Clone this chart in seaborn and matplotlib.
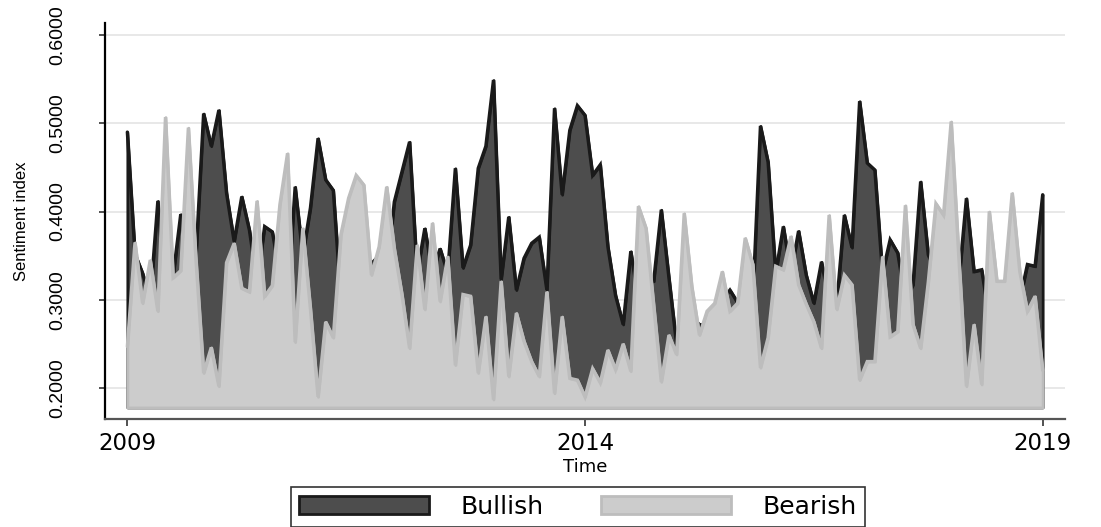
import numpy as np
import pandas as pd
import matplotlib
matplotlib.use("Agg")
import matplotlib.pyplot as plt
from matplotlib.patches import Patch
import seaborn as sns

# Monthly sentiment index, January 2009 - January 2019
start_year = 2009
bullish = [
    0.490, 0.352, 0.330, 0.300, 0.412, 0.300, 0.327, 0.397, 0.300, 0.350, 0.511, 0.474,
    0.515, 0.421, 0.366, 0.417, 0.379, 0.320, 0.383, 0.377, 0.330, 0.300, 0.428, 0.350,
    0.404, 0.483, 0.436, 0.424, 0.300, 0.310, 0.320, 0.330, 0.341, 0.350, 0.330, 0.411,
    0.445, 0.479, 0.330, 0.381, 0.330, 0.358, 0.330, 0.449, 0.336, 0.362, 0.449, 0.474,
    0.549, 0.323, 0.394, 0.311, 0.347, 0.364, 0.371, 0.311, 0.517, 0.419, 0.492, 0.520,
    0.509, 0.441, 0.453, 0.360, 0.305, 0.272, 0.355, 0.300, 0.320, 0.321, 0.402, 0.325,
    0.250, 0.250, 0.280, 0.272, 0.270, 0.280, 0.300, 0.311, 0.297, 0.320, 0.300, 0.497,
    0.456, 0.330, 0.383, 0.330, 0.378, 0.328, 0.296, 0.343, 0.300, 0.295, 0.396, 0.359,
    0.525, 0.455, 0.447, 0.330, 0.368, 0.353, 0.300, 0.317, 0.434, 0.351, 0.330, 0.320,
    0.330, 0.320, 0.415, 0.332, 0.334, 0.280, 0.280, 0.280, 0.300, 0.300, 0.340, 0.338,
    0.419,
]
bearish = [
    0.247, 0.365, 0.296, 0.345, 0.287, 0.507, 0.325, 0.333, 0.495, 0.345, 0.217, 0.246,
    0.202, 0.342, 0.364, 0.313, 0.309, 0.412, 0.304, 0.316, 0.408, 0.466, 0.252, 0.381,
    0.290, 0.190, 0.275, 0.257, 0.374, 0.415, 0.441, 0.430, 0.328, 0.360, 0.428, 0.358,
    0.306, 0.245, 0.362, 0.289, 0.387, 0.298, 0.349, 0.226, 0.306, 0.304, 0.217, 0.281,
    0.187, 0.321, 0.213, 0.285, 0.253, 0.230, 0.213, 0.309, 0.194, 0.281, 0.211, 0.209,
    0.190, 0.222, 0.206, 0.243, 0.221, 0.250, 0.219, 0.406, 0.381, 0.294, 0.207, 0.260,
    0.238, 0.398, 0.315, 0.260, 0.287, 0.296, 0.332, 0.287, 0.296, 0.370, 0.340, 0.223,
    0.257, 0.338, 0.334, 0.372, 0.317, 0.295, 0.275, 0.245, 0.396, 0.289, 0.328, 0.317,
    0.209, 0.230, 0.230, 0.349, 0.258, 0.264, 0.407, 0.272, 0.245, 0.320, 0.409, 0.396,
    0.502, 0.350, 0.202, 0.272, 0.204, 0.400, 0.321, 0.321, 0.421, 0.332, 0.287, 0.304,
    0.220,
]
series_names = ["Bullish", "Bearish"]
year_ticks = [2009, 2014, 2019]
y_ticks = [0.2, 0.3, 0.4, 0.5, 0.6]
area_base = 0.178

time = start_year + np.arange(len(bullish)) / 12.0
df = pd.DataFrame({"Time": time, "Bullish": bullish, "Bearish": bearish})

sns.set_theme(style="white")
plt.rcParams["font.family"] = ["Liberation Sans", "DejaVu Sans"]
plt.rcParams["text.color"] = "black"
plt.rcParams["axes.labelcolor"] = "black"
plt.rcParams["xtick.color"] = "black"
plt.rcParams["ytick.color"] = "black"

W, H = 1101, 527
fig = plt.figure(figsize=(W / 100, H / 100), dpi=100)
fig.patch.set_facecolor("white")
ax = fig.add_axes([105 / W, 1 - 419 / H, (1065 - 105) / W, (419 - 23) / H])

dark_fill, dark_edge = "#4d4d4d", "#1a1a1a"
light_fill, light_edge = "#cccccc", "#bdbdbd"

# Bullish area (drawn first), Bearish area overlaid on top
ax.fill_between(df["Time"], area_base, df["Bullish"], facecolor=dark_fill,
                edgecolor=dark_edge, linewidth=2.0, zorder=2)
sns.lineplot(data=df, x="Time", y="Bullish", color=dark_edge, linewidth=2.4,
             solid_joinstyle="miter", ax=ax, zorder=2.1)
ax.fill_between(df["Time"], area_base, df["Bearish"], facecolor=light_fill,
                edgecolor=light_edge, linewidth=2.0, zorder=3)
sns.lineplot(data=df, x="Time", y="Bearish", color=light_edge, linewidth=2.4,
             solid_joinstyle="miter", ax=ax, zorder=3.1)

ax.set_xlim(2008.756, 2019.244)
ax.set_ylim(0.1649, 0.6136)

ax.set_yticks(y_ticks)
ax.set_yticklabels([f"{v:.4f}" for v in y_ticks], rotation=90, va="center",
                   fontsize=14, color="black")
ax.set_xticks(year_ticks)
ax.set_xticklabels([str(y) for y in year_ticks], fontsize=16.5,
                   family=["DejaVu Sans"], color="black")
ax.tick_params(axis="y", length=4, width=1.2, color="#333333", pad=24,
               left=True)
ax.tick_params(axis="x", length=5, width=1.2, color="#333333", pad=4,
               bottom=True)

ax.set_axisbelow(True)
ax.yaxis.grid(True, color="#e6e6e6", linewidth=1.3)
ax.xaxis.grid(False)

for side in ("top", "right"):
    ax.spines[side].set_visible(False)
ax.spines["left"].set_color("black")
ax.spines["left"].set_linewidth(1.6)
ax.spines["bottom"].set_color("#555555")
ax.spines["bottom"].set_linewidth(1.6)

ax.set_ylabel("Sentiment index", fontsize=12, color="black",
              family=["Liberation Sans Narrow", "Liberation Sans"])
ax.yaxis.set_label_coords(-0.079, 0.5)
ax.set_xlabel("Time", fontsize=13, family=["DejaVu Sans"], color="black")
ax.xaxis.set_label_coords(0.5, -0.098)

handles = [
    Patch(facecolor=dark_fill, edgecolor=dark_edge, linewidth=2.0, label=series_names[0]),
    Patch(facecolor=light_fill, edgecolor=light_edge, linewidth=2.0, label=series_names[1]),
]
leg = fig.legend(handles=handles, loc="center", bbox_to_anchor=(578 / W, 1 - 507 / H),
                 ncol=2, frameon=True, fancybox=False, shadow=False,
                 prop={"family": "DejaVu Sans", "size": 18},
                 handlelength=5.2, handleheight=0.72, handletextpad=1.25,
                 columnspacing=2.3, borderpad=0.32)
leg.get_frame().set_edgecolor("black")
leg.get_frame().set_linewidth(1.2)
for t in leg.get_texts():
    t.set_color("black")

fig.savefig("out.png", dpi=100, facecolor="white")
